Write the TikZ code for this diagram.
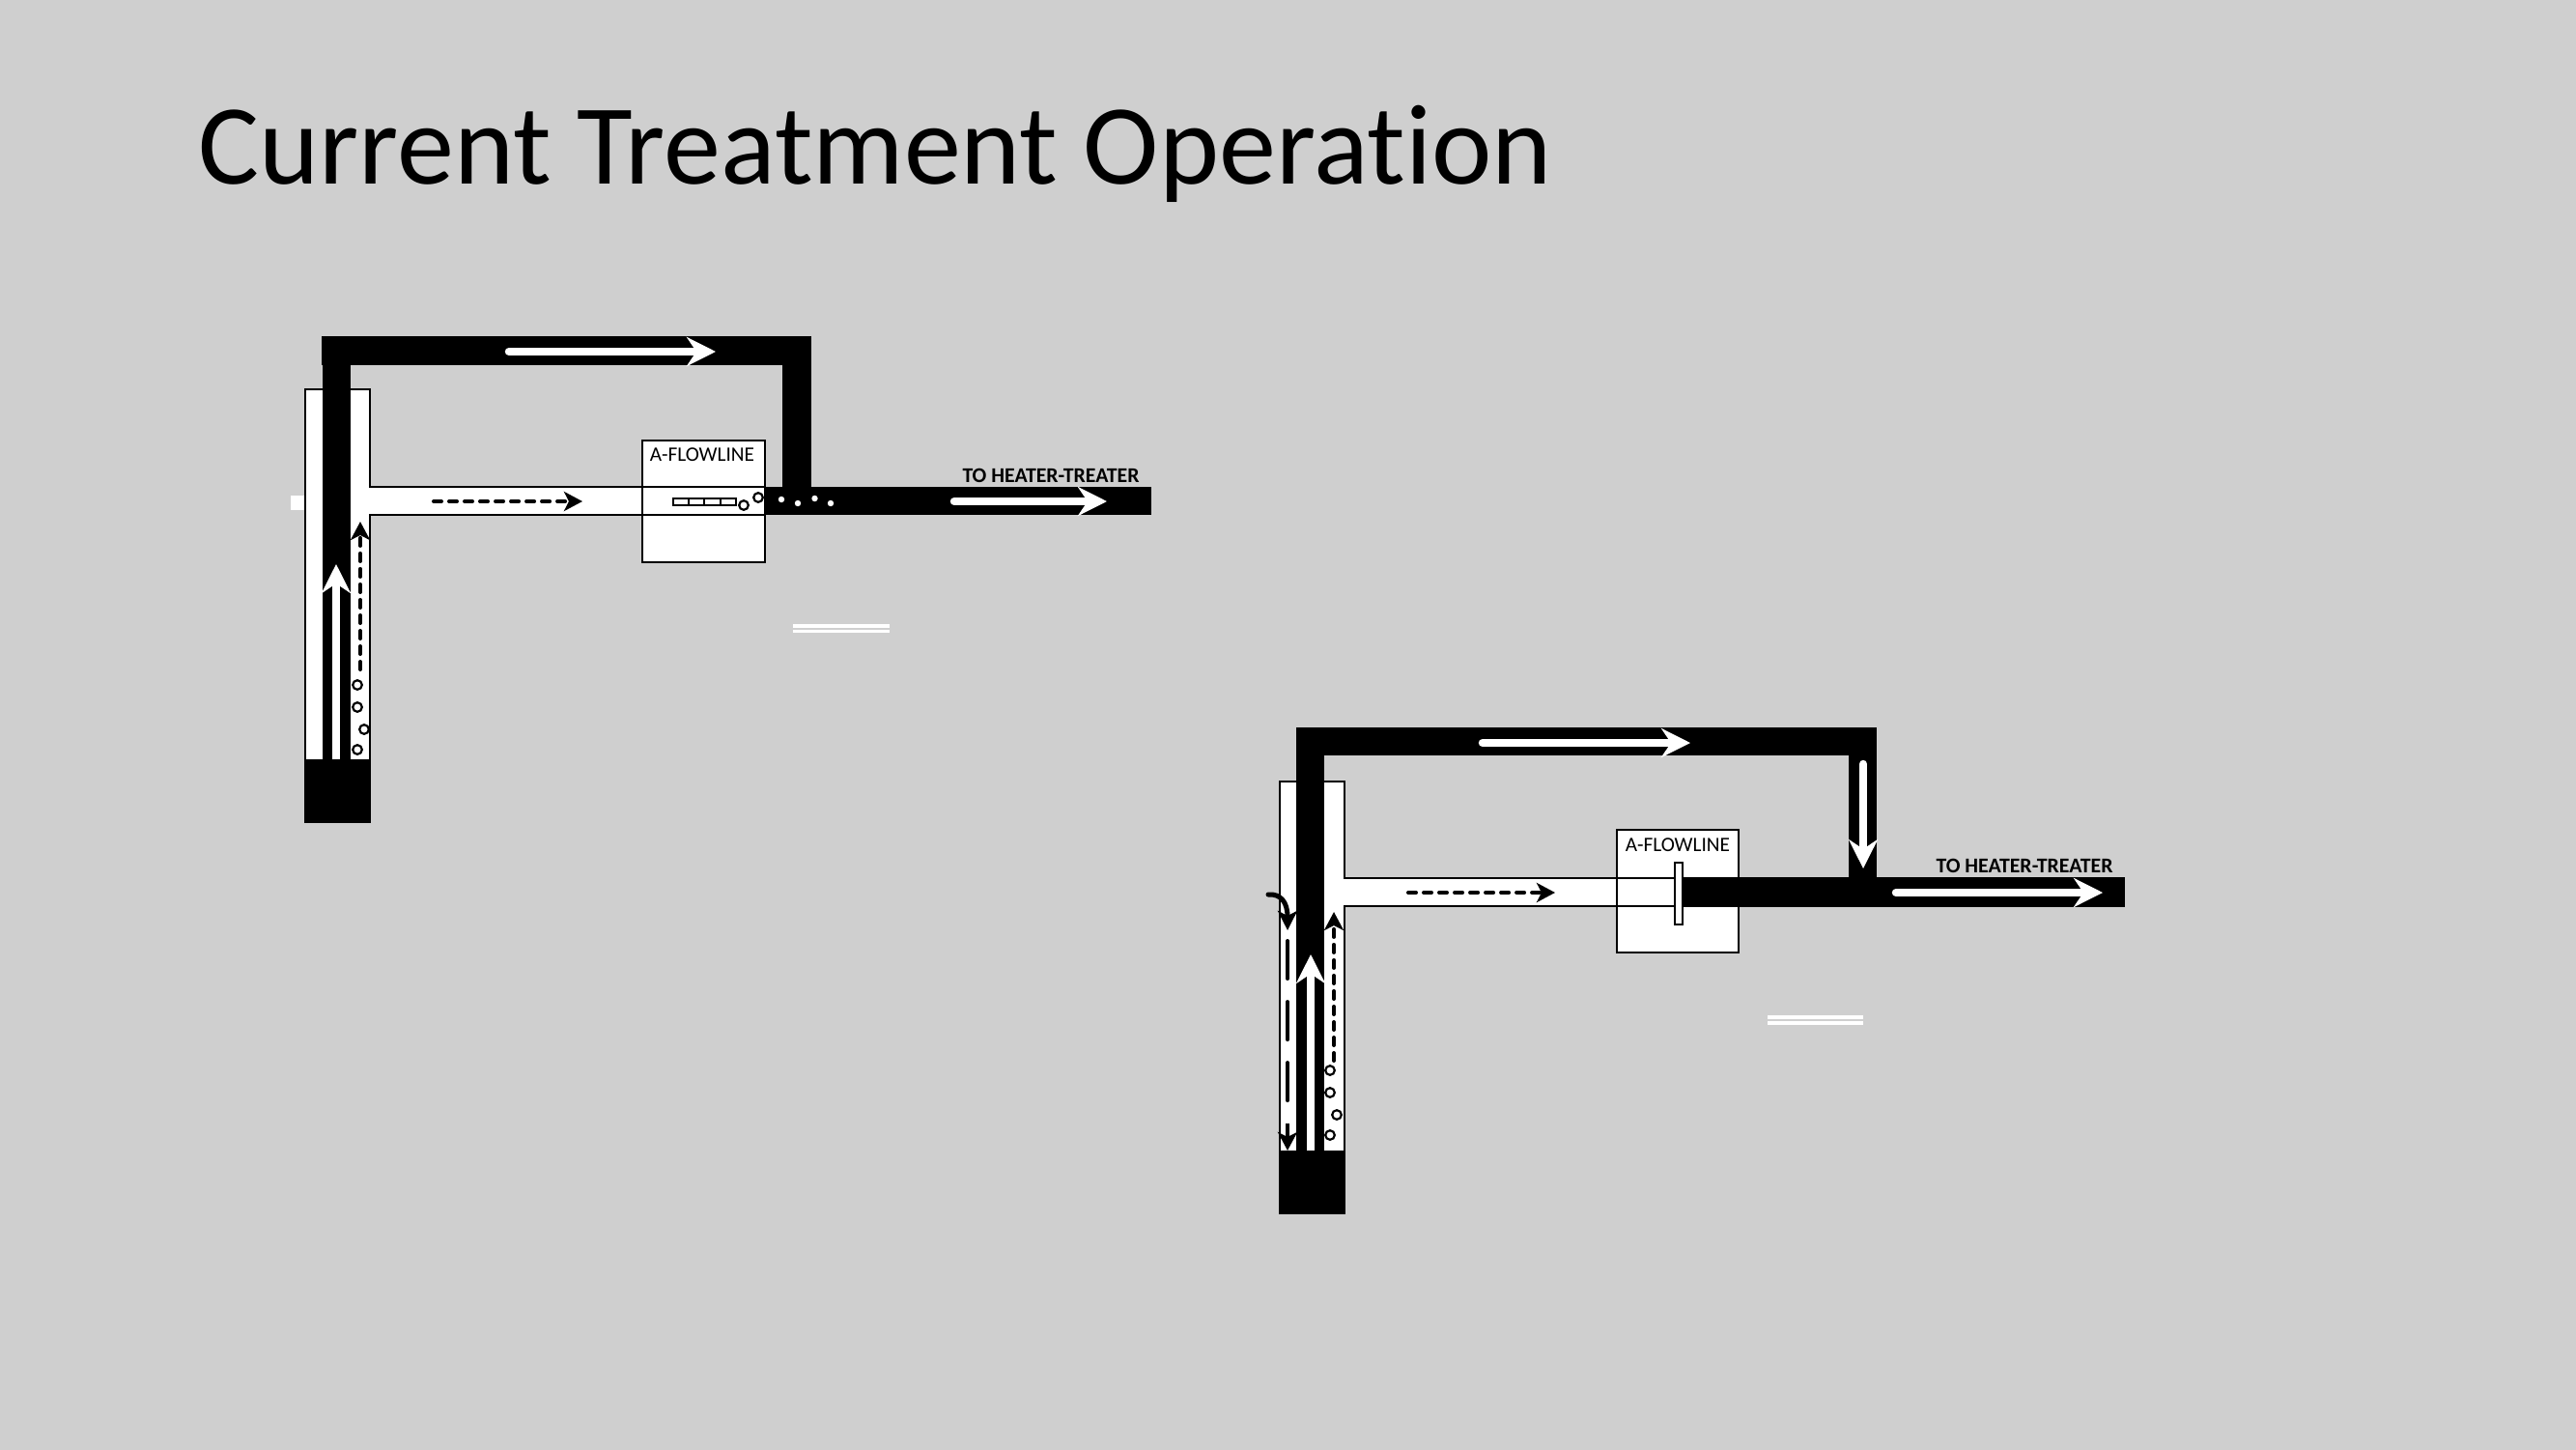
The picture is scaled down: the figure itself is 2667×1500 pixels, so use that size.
\documentclass[tikz,border=0pt]{standalone}
\usepackage{fontspec}
\setmainfont[Ligatures=NoCommon]{Carlito}
\usetikzlibrary{arrows.meta}
\definecolor{slidegray}{RGB}{207,207,207}
\tikzset{
  wall/.style={draw=black,line width=0.02cm,fill=white},
  pipe/.style={fill=black},
  whiteflow/.style={draw=white,line width=0.085cm,line cap=round,-{Stealth[length=0.3cm,width=0.3cm,inset=0.1cm]}},
  oilflow/.style={draw=black,line width=0.04cm,line cap=round,dash pattern=on 0.08cm off 0.08cm,-{Stealth[length=0.19cm,width=0.2cm,inset=0.05cm]}},
  gasflow/.style={draw=black,line width=0.04cm,line cap=round,dash pattern=on 0.39cm off 0.24cm},
  bubble/.style={draw=black,line width=0.022cm,fill=white},
  drop/.style={fill=white},
  boxlabel/.style={font=\fontsize{6.05pt}{6.5pt}\selectfont,inner sep=0pt},
  heaterlabel/.style={font=\fontsize{6.2pt}{6.5pt}\selectfont\bfseries,inner sep=0pt}
}
\begin{document}
\begin{tikzpicture}[x=0.01cm,y=-0.01cm]
\useasboundingbox (0,0) rectangle (2667,1500);
\fill[slidegray] (-10,-10) rectangle (2677,1510);
\node[font=\fontsize{33.6pt}{34pt}\selectfont,anchor=base west,inner sep=0pt] (title) at (205,190) {Current Treatment Operation};

% first well
\fill[white] (301,513) rectangle (316,528);
\draw[wall] (665,456) rectangle (792,582);
\draw[wall] (316,403) -- (383,403) -- (383,504) -- (792,504) -- (792,533) -- (383,533) -- (383,790) -- (316,790) -- cycle;
\draw[wall,fill=none] (665,456) -- (665,582);
\fill[pipe] (315,786) rectangle (384,852);
\fill[pipe] (334,348) rectangle (363,786);
\fill[pipe] (333,348) rectangle (840,378);
\fill[pipe] (810,348) rectangle (840,504);
\fill[pipe] (792,504) rectangle (1192,533);
\draw[whiteflow] (527,364) -- (741,364);
\draw[whiteflow] (988,519) -- (1146,519);
\draw[whiteflow,line cap=butt] (348,786) -- (348,584);
\draw[oilflow] (449,519) -- (603,519);
\draw[oilflow] (373,693) -- (373,540);
\foreach \x/\y in {370/709,370/732,377/755,370/776}
  \draw[bubble] (\x,\y) circle (4.8);
\foreach \x/\y in {770/523,785/515}
  \draw[bubble] (\x,\y) circle (4.8);
\foreach \x/\y in {809/517,826/521,843.5/516,860/521}
  \fill[drop] (\x,\y) circle (3.2);
\draw[wall] (697,516) rectangle (762,523);
\foreach \x in {713,729,746}
  \draw[line width=0.02cm] (\x,516) -- (\x,523);
\node[boxlabel] (flowlinea) at (727,471) {A-FLOWLINE};
\node[heaterlabel] (heatera) at (1088,492) {TO HEATER-TREATER};
\fill[white] (821,646) rectangle (921,650);
\fill[white] (821,652) rectangle (921,655);

% second well
\draw[wall] (1674,859) rectangle (1800,986);
\draw[wall] (1325,809) -- (1392,809) -- (1392,909) -- (1800,909) -- (1800,938) -- (1392,938) -- (1392,1195) -- (1325,1195) -- cycle;
\draw[wall,fill=none] (1674,859) -- (1674,986);
\fill[pipe] (1324,1191) rectangle (1393,1257);
\fill[pipe] (1342,753) rectangle (1371,1191);
\fill[pipe] (1342,753) rectangle (1943,782);
\fill[pipe] (1914,753) rectangle (1943,908);
\fill[pipe] (1742,908) rectangle (2200,939);
\draw[wall] (1734,893) rectangle (1742,957);
\draw[whiteflow] (1535,769) -- (1750,769);
\draw[whiteflow] (1929,791) -- (1929,899);
\draw[whiteflow] (1963,924) -- (2177,924);
\draw[whiteflow,line cap=butt] (1357,1191) -- (1357,988);
\draw[oilflow] (1458,924) -- (1610,924);
\draw[oilflow] (1381,1098) -- (1381,944);
\foreach \x/\y in {1377/1108,1377/1131,1384/1154,1377/1175}
  \draw[bubble] (\x,\y) circle (4.8);
\draw[gasflow] (1333,974) -- (1333,1161);
\draw[draw=black,line width=0.04cm,-{Stealth[length=0.19cm,width=0.2cm,inset=0.05cm]}] (1333,1163) -- (1333,1191);
\draw[draw=black,line width=0.05cm,line cap=round,-{Stealth[length=0.2cm,width=0.2cm,inset=0.05cm]}] (1313,926) .. controls (1326,925) and (1333,934) .. (1333,963);
\node[boxlabel] (flowlineb) at (1737,875) {A-FLOWLINE};
\node[heaterlabel] (heaterb) at (2096,896) {TO HEATER-TREATER};
\fill[white] (1830,1051) rectangle (1929,1055);
\fill[white] (1830,1057) rectangle (1929,1061);
\end{tikzpicture}
\end{document}
